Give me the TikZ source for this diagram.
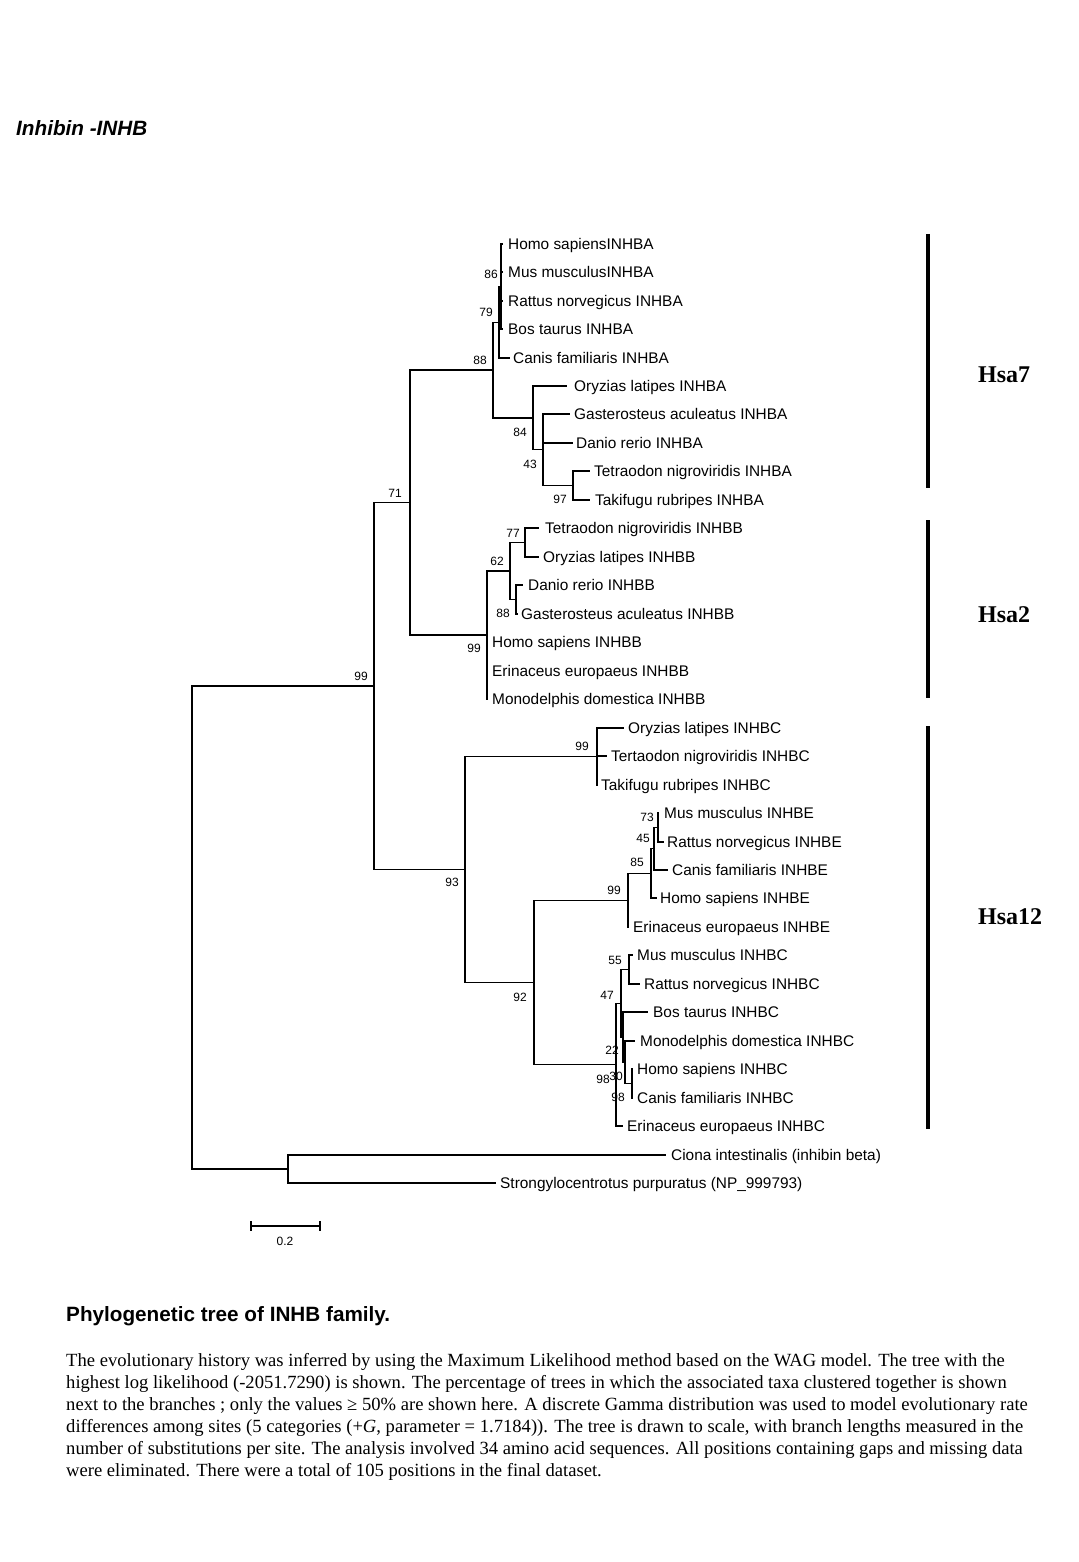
\documentclass[tikz,border=0pt]{standalone}
\usepackage{fontspec}
\setmainfont{Liberation Sans}
\newfontfamily\capserif{Liberation Serif}
\begin{document}
\begin{tikzpicture}[x=1pt,y=-1pt,
  br/.style={line width=1.3pt, line join=miter},
  leaf/.style={anchor=base west, inner sep=0pt, font=\fontsize{15.4}{18}\selectfont},
  boot/.style={anchor=center, inner sep=0pt, font=\fontsize{12}{14}\selectfont},
  cladebar/.style={line width=4pt},
  cladelab/.style={anchor=base west, inner sep=0pt, font=\capserif\bfseries\fontsize{24}{28}\selectfont},
  capline/.style={anchor=base west, inner sep=0pt, font=\capserif\fontsize{18.6}{22}\selectfont},
]
\useasboundingbox[fill=white] (0,0) rectangle (1078,1562);

% title
\node[anchor=base west, inner sep=0pt, font=\bfseries\itshape\fontsize{20.7}{24}\selectfont] (title) at (16,136) {Inhibin -INHB};

% ---------- leaf tips ----------
\coordinate (t1) at (503,244);
\coordinate (t2) at (503,272);
\coordinate (t3) at (503,301);
\coordinate (t4) at (503,329);
\coordinate (t5) at (510,358);
\coordinate (t6) at (567,386);
\coordinate (t7) at (570,414);
\coordinate (t8) at (573,443);
\coordinate (t9) at (590,471);
\coordinate (t10) at (590,500);
\coordinate (t11) at (539,528);
\coordinate (t12) at (539,557);
\coordinate (t13) at (523,585);
\coordinate (t14) at (518,614);
\coordinate (t15) at (488,642);
\coordinate (t16) at (488,671);
\coordinate (t17) at (488,699);
\coordinate (t18) at (624,728);
\coordinate (t19) at (607,756);
\coordinate (t20) at (598,785);
\coordinate (t21) at (659,813);
\coordinate (t22) at (664,842);
\coordinate (t23) at (668,870);
\coordinate (t24) at (657,898);
\coordinate (t25) at (629,927);
\coordinate (t26) at (633,955);
\coordinate (t27) at (640,984);
\coordinate (t28) at (648,1012);
\coordinate (t29) at (635,1041);
\coordinate (t30) at (633,1069);
\coordinate (t31) at (633,1098);
\coordinate (t32) at (623,1126);
\coordinate (t33) at (666,1155);
\coordinate (t34) at (496,1183);

% ---------- internal nodes ----------
\coordinate (a86) at (501,286.5);
\coordinate (a79) at (499,322.25);
\coordinate (a97) at (573,485.5);
\coordinate (a43) at (543,449.75);
\coordinate (a84) at (533,417.9);
\coordinate (a88) at (493,370);
\coordinate (b77) at (525,542.5);
\coordinate (b88) at (516,599.5);
\coordinate (b62) at (510,571);
\coordinate (b99) at (487,635);
\coordinate (n71) at (410,502.5);
\coordinate (c99) at (597,756.5);
\coordinate (e73) at (658,827.5);
\coordinate (e45) at (654,848.75);
\coordinate (e85) at (651,873.4);
\coordinate (e99) at (628,900.2);
\coordinate (c55) at (629,969.5);
\coordinate (c30) at (632,1083.5);
\coordinate (cx) at (625,1062.25);
\coordinate (c22) at (623,1037.1);
\coordinate (c47) at (621,1003.3);
\coordinate (c98) at (616,1064.6);
\coordinate (n92) at (534,982.4);
\coordinate (n93) at (465,869.4);
\coordinate (n99) at (374,686);
\coordinate (out) at (288,1169);
\coordinate (root) at (192,927.5);

% ---------- branches ----------
\draw[br] (a86) |- (t1) (a86) |- (t2) (a86) |- (t3) (a86) |- (t4);
\draw[br] (a79) |- (a86) (a79) |- (t5);
\draw[br] (a88) |- (a79) (a88) |- (a84);
\draw[br] (a84) |- (t6) (a84) |- (a43);
\draw[br] (a43) |- (t7) (a43) |- (t8) (a43) |- (a97);
\draw[br] (a97) |- (t9) (a97) |- (t10);
\draw[br] (n71) |- (a88) (n71) |- (b99);
\draw[br] (b99) |- (b62) (b99) |- (t15) (b99) |- (t16) (b99) |- (t17);
\draw[br] (b62) |- (b77) (b62) |- (b88);
\draw[br] (b77) |- (t11) (b77) |- (t12);
\draw[br] (b88) |- (t13) (b88) |- (t14);
\draw[br] (n99) |- (n71) (n99) |- (n93);
\draw[br] (n93) |- (c99) (n93) |- (n92);
\draw[br] (c99) |- (t18) (c99) |- (t19) (c99) |- (t20);
\draw[br] (n92) |- (e99) (n92) |- (c98);
\draw[br] (e99) |- (e85) (e99) |- (t25);
\draw[br] (e85) |- (e45) (e85) |- (t24);
\draw[br] (e45) |- (e73) (e45) |- (t23);
\draw[br] (e73) |- (t21) (e73) |- (t22);
\draw[br] (c98) |- (c47) (c98) |- (t32);
\draw[br] (c47) |- (c55) (c47) |- (c22);
\draw[br] (c55) |- (t26) (c55) |- (t27);
\draw[br] (c22) |- (t28) (c22) |- (cx);
\draw[br] (cx) |- (t29) (cx) |- (c30);
\draw[br] (c30) |- (t30) (c30) |- (t31);
\draw[br] (root) |- (n99) (root) |- (out);
\draw[br] (out) |- (t33) (out) |- (t34);

% ---------- leaf labels ----------
\node[leaf] (l1) at (508,249.4) {Homo sapiensINHBA};
\node[leaf] (l2) at (508,277.4) {Mus musculusINHBA};
\node[leaf] (l3) at (508,306.4) {Rattus norvegicus INHBA};
\node[leaf] (l4) at (508,334.4) {Bos taurus INHBA};
\node[leaf] (l5) at (513,363.4) {Canis familiaris INHBA};
\node[leaf] (l6) at (574,391.4) {Oryzias latipes INHBA};
\node[leaf] (l7) at (574,419.4) {Gasterosteus aculeatus INHBA};
\node[leaf] (l8) at (576,448.4) {Danio rerio INHBA};
\node[leaf] (l9) at (594,476.4) {Tetraodon nigroviridis INHBA};
\node[leaf] (l10) at (595,505.4) {Takifugu rubripes INHBA};
\node[leaf] (l11) at (545,533.4) {Tetraodon nigroviridis INHBB};
\node[leaf] (l12) at (543,562.4) {Oryzias latipes INHBB};
\node[leaf] (l13) at (528,590.4) {Danio rerio INHBB};
\node[leaf] (l14) at (521,619.4) {Gasterosteus aculeatus INHBB};
\node[leaf] (l15) at (492,647.4) {Homo sapiens INHBB};
\node[leaf] (l16) at (492,676.4) {Erinaceus europaeus INHBB};
\node[leaf] (l17) at (492,704.4) {Monodelphis domestica INHBB};
\node[leaf] (l18) at (628,733.4) {Oryzias latipes INHBC};
\node[leaf] (l19) at (611,761.4) {Tertaodon nigroviridis INHBC};
\node[leaf] (l20) at (601,790.4) {Takifugu rubripes INHBC};
\node[leaf] (l21) at (664,818.4) {Mus musculus INHBE};
\node[leaf] (l22) at (667,847.4) {Rattus norvegicus INHBE};
\node[leaf] (l23) at (672,875.4) {Canis familiaris INHBE};
\node[leaf] (l24) at (660,903.4) {Homo sapiens INHBE};
\node[leaf] (l25) at (633,932.4) {Erinaceus europaeus INHBE};
\node[leaf] (l26) at (637,960.4) {Mus musculus INHBC};
\node[leaf] (l27) at (644,989.4) {Rattus norvegicus INHBC};
\node[leaf] (l28) at (653,1017.4) {Bos taurus INHBC};
\node[leaf] (l29) at (640,1046.4) {Monodelphis domestica INHBC};
\node[leaf] (l30) at (637,1074.4) {Homo sapiens INHBC};
\node[leaf] (l31) at (637,1103.4) {Canis familiaris INHBC};
\node[leaf] (l32) at (627,1131.4) {Erinaceus europaeus INHBC};
\node[leaf] (l33) at (671,1160.4) {Ciona intestinalis (inhibin beta)};
\node[leaf] (l34) at (500,1188.4) {Strongylocentrotus purpuratus (NP\_999793)};

% ---------- bootstrap values ----------
\node[boot] (s1) at (491,274) {86};
\node[boot] (s2) at (486,312) {79};
\node[boot] (s3) at (480,360) {88};
\node[boot] (s4) at (520,432) {84};
\node[boot] (s5) at (530,464) {43};
\node[boot] (s6) at (560,499) {97};
\node[boot] (s7) at (395,493) {71};
\node[boot] (s8) at (513,533) {77};
\node[boot] (s9) at (497,561) {62};
\node[boot] (s10) at (503,613) {88};
\node[boot] (s11) at (474,648) {99};
\node[boot] (s12) at (361,676) {99};
\node[boot] (s13) at (582,746) {99};
\node[boot] (s14) at (647,817) {73};
\node[boot] (s15) at (643,838) {45};
\node[boot] (s16) at (637,862) {85};
\node[boot] (s17) at (452,882) {93};
\node[boot] (s18) at (614,890) {99};
\node[boot] (s19) at (615,960) {55};
\node[boot] (s20) at (607,995) {47};
\node[boot] (s21) at (520,997) {92};
\node[boot] (s22) at (612,1050) {22};
\node[boot] (s23) at (603,1079) {98};
\node[boot] (s24) at (616,1076) {30};
\node[boot] (s25) at (618,1097) {98};

% ---------- clade bars ----------
\coordinate (h7a) at (928,234);  \coordinate (h7b) at (928,488);
\coordinate (h2a) at (928,520);  \coordinate (h2b) at (928,698);
\coordinate (h12a) at (928,726); \coordinate (h12b) at (928,1129);
\draw[cladebar] (h7a) -- (h7b);
\draw[cladebar] (h2a) -- (h2b);
\draw[cladebar] (h12a) -- (h12b);
\node[cladelab] (hsa7) at (978,382) {Hsa7};
\node[cladelab] (hsa2) at (978,622) {Hsa2};
\node[cladelab] (hsa12) at (978,924) {Hsa12};

% ---------- scale bar ----------
\coordinate (sb1) at (251,1226); \coordinate (sb2) at (320,1226);
\coordinate (sb1u) at (251,1221); \coordinate (sb1d) at (251,1231);
\coordinate (sb2u) at (320,1221); \coordinate (sb2d) at (320,1231);
\draw[br] (sb1) -- (sb2);
\draw[br] (sb1u) -- (sb1d);
\draw[br] (sb2u) -- (sb2d);
\node[boot] (sblab) at (285,1241) {0.2};

% ---------- caption ----------
\node[anchor=base west, inner sep=0pt, font=\bfseries\fontsize{20.7}{24}\selectfont] (captitle) at (66,1321) {Phylogenetic tree of INHB family.};
\node[capline] (c1) at (66,1366) {The evolutionary history was inferred by using the Maximum Likelihood method based on the WAG model. The tree with the};
\node[capline] (c2) at (66,1388) {highest log likelihood (-2051.7290) is shown. The percentage of trees in which the associated taxa clustered together is shown};
\node[capline] (c3) at (66,1410) {next to the branches ; only the values ≥ 50\% are shown here. A discrete Gamma distribution was used to model evolutionary rate};
\node[capline] (c4) at (66,1432) {differences among sites (5 categories (+\textit{G}, parameter = 1.7184)). The tree is drawn to scale, with branch lengths measured in the};
\node[capline] (c5) at (66,1454) {number of substitutions per site. The analysis involved 34 amino acid sequences. All positions containing gaps and missing data};
\node[capline] (c6) at (66,1476) {were eliminated. There were a total of 105 positions in the final dataset.};
\end{tikzpicture}
\end{document}
